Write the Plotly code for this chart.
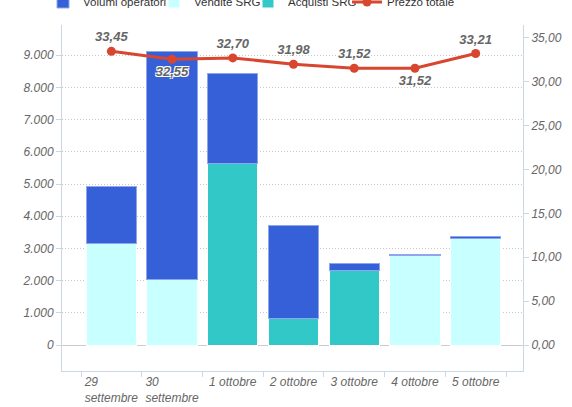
import plotly.graph_objects as go

categories = ["29 settembre", "30 settembre", "1 ottobre", "2 ottobre",
              "3 ottobre", "4 ottobre", "5 ottobre"]
NB = "\u00a0"
tick_labels = ["29" + NB * 12 + "<br>settembre",
               "30" + NB * 12 + "<br>settembre",
               "1 ottobre", "2 ottobre", "3 ottobre", "4 ottobre", "5 ottobre"]
vendite_srg = [3140, 2020, None, None, None, 2780, 3300]
acquisti_srg = [None, None, 5630, 820, 2300, None, None]
volumi_operatori = [1785, 7080, 2800, 2890, 220, 25, 70]
prezzo_totale = [33.45, 32.55, 32.70, 31.98, 31.52, 31.52, 33.21]
label_pos = ["top center", "bottom center", "top center", "top center",
             "top center", "bottom center", "top center"]

left_ticks = [0, 1000, 2000, 3000, 4000, 5000, 6000, 7000, 8000, 9000]
left_ticktext = ["0", "1.000", "2.000", "3.000", "4.000", "5.000",
                 "6.000", "7.000", "8.000", "9.000"]
right_ticks = [0, 5, 10, 15, 20, 25, 30, 35]
right_ticktext = ["0,00", "5,00", "10,00", "15,00", "20,00", "25,00",
                  "30,00", "35,00"]

FONT = "Arial, Liberation Sans, sans-serif"
BLUE = "#3560d8"
CYAN = "#c8ffff"
TEAL = "#33c8c8"
RED = "#d8462f"
AXIS = "#ccd6eb"

fig = go.Figure()
fig.add_trace(go.Bar(x=categories, y=vendite_srg, name="Vendite SRG",
                     marker=dict(color=CYAN, line=dict(color="white", width=1)),
                     width=0.83, legend="legend3"))
fig.add_trace(go.Bar(x=categories, y=acquisti_srg, name="Acquisti SRG",
                     marker=dict(color=TEAL, line=dict(color="white", width=1)),
                     width=0.83, legend="legend4"))
fig.add_trace(go.Bar(x=categories, y=volumi_operatori, name="Volumi operatori",
                     marker=dict(color=BLUE, line=dict(color="#8fa6ee", width=1)),
                     width=0.83, legend="legend2"))
fig.add_trace(go.Scatter(
    x=categories, y=prezzo_totale, name="Prezzo totale", yaxis="y2",
    mode="lines+markers+text",
    line=dict(color=RED, width=3),
    marker=dict(color=RED, size=9),
    text=[f"{v:.2f}".replace(".", ",") for v in prezzo_totale],
    textposition=label_pos,
    textfont=dict(family=FONT, size=13, color="#666666", weight="bold", style="italic",
                  shadow="-1px -1px 0 #fff, 1px -1px 0 #fff, -1px 1px 0 #fff, 1px 1px 0 #fff"),
    legend="legend5", cliponaxis=False))

leg_common = dict(orientation="h", xanchor="left", y=1.0665, yanchor="middle",
                  font=dict(size=11.5, color="#333333"), itemwidth=30,
                  bgcolor="rgba(0,0,0,0)")

fig.update_layout(
    width=572, height=407,
    margin=dict(l=62, r=49, t=25, b=36, autoexpand=False),
    plot_bgcolor="white", paper_bgcolor="white",
    barmode="stack",
    hovermode=False,
    font=dict(family=FONT, size=12, color="#666666"),
    legend2=dict(x=-0.0412, **leg_common),
    legend3=dict(x=0.1996, **leg_common),
    legend4=dict(x=0.4035, **leg_common),
    legend5=dict(x=0.6182, **leg_common),
    xaxis=dict(type="category", range=[-0.813, 6.78],
               tickmode="array", tickvals=categories, ticktext=tick_labels,
               tickson="boundaries", ticks="outside", ticklen=5, tickcolor=AXIS,
               tickangle=0,
               showline=True, linecolor=AXIS, linewidth=1, mirror=False,
               showgrid=False,
               tickfont=dict(size=12, color="#666666", style="italic")),
    yaxis=dict(range=[-807, 9938], tickmode="array", tickvals=left_ticks,
               ticktext=left_ticktext, ticks="outside", ticklen=5, tickcolor=AXIS,
               showline=True, linecolor=AXIS, linewidth=1,
               showgrid=True, gridcolor="#c8c8c8", griddash="1px,2px", gridwidth=1,
               zeroline=True, zerolinecolor="#cccccc", zerolinewidth=1,
               tickfont=dict(size=12, color="#666666", style="italic")),
    yaxis2=dict(range=[-2.96, 36.45], overlaying="y", side="right",
                tickmode="array", tickvals=right_ticks, ticktext=right_ticktext,
                ticks="outside", ticklen=5, tickcolor=AXIS,
                showline=True, linecolor=AXIS, linewidth=1,
                showgrid=False, zeroline=False,
                tickfont=dict(size=12, color="#666666", style="italic")),
)

fig.write_html("out.html", config={"displayModeBar": False},
               post_script="document.body.style.margin='0';document.body.style.overflow='hidden';")
